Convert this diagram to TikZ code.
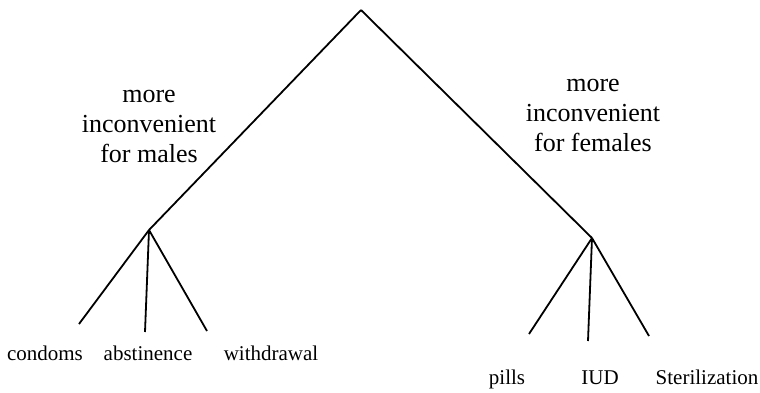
\documentclass[tikz,border=0pt]{standalone}
\usepackage{fontspec}
\setmainfont{Liberation Serif}
\usetikzlibrary{positioning}

\begin{document}
\begin{tikzpicture}[x=1pt, y=-1pt,
    branchnote/.style={align=center, inner sep=0pt, font=\fontsize{26}{30}\selectfont},
    leafnote/.style={anchor=base, inner sep=0pt, font=\fontsize{21}{24}\selectfont},
    branch/.style={draw=black, line width=1.8pt}
    ]
        \useasboundingbox (0,0) rectangle (760,392);
        %Nodes
        \coordinate (root)    at (361,10);
        \coordinate (males)   at (149,230);
        \coordinate (females) at (592,238);
        \coordinate (condomsend)     at (79,324);
        \coordinate (abstinenceend)  at (145,332);
        \coordinate (withdrawalend)  at (207,331);
        \coordinate (pillsend)       at (529,334);
        \coordinate (iudend)         at (588,341);
        \coordinate (sterilend)      at (649,336);
        
        \node[branchnote] (malesnote)   at (149,126.5) {more\\inconvenient\\for males};
        \node[branchnote] (femalesnote) at (593,115.5) {more\\inconvenient\\for females};
        
        \node[leafnote] (condoms)    at (45,360)  {condoms};
        \node[leafnote] (abstinence) at (148,360) {abstinence};
        \node[leafnote] (withdrawal) at (271,360) {withdrawal};
        \node[leafnote] (pills)      at (507,384) {pills};
        \node[leafnote] (iud)        at (600,384) {IUD};
        \node[leafnote] (steril)     at (707,384) {Sterilization};
        
        %Lines
        \draw[branch] (root) -- (males);
        \draw[branch] (root) -- (females);
        \draw[branch] (males) -- (condomsend);
        \draw[branch] (males) -- (abstinenceend);
        \draw[branch] (males) -- (withdrawalend);
        \draw[branch] (females) -- (pillsend);
        \draw[branch] (females) -- (iudend);
        \draw[branch] (females) -- (sterilend);
    \end{tikzpicture}
\end{document}
